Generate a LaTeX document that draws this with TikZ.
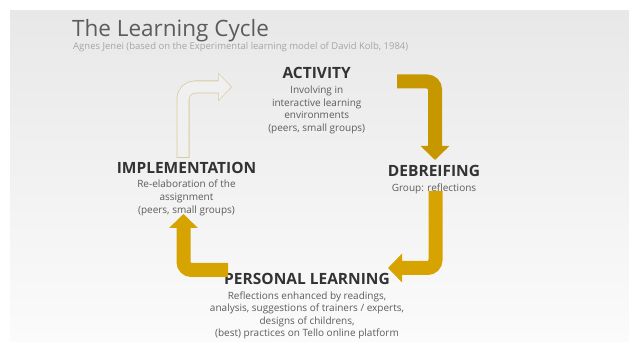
\documentclass[tikz,border=0pt]{standalone}
\usepackage{fontspec}
\setmainfont{Open Sans}
\usetikzlibrary{arrows.meta,positioning}

\definecolor{headgray}{RGB}{51,51,51}
\definecolor{textgray}{RGB}{92,92,92}
\definecolor{subgray}{RGB}{165,165,165}
\definecolor{golddark}{RGB}{199,151,0}
\definecolor{goldlight}{RGB}{214,163,0}
\definecolor{tanline}{RGB}{217,202,160}
\definecolor{tanfill}{RGB}{240,240,240}
\definecolor{bgtop}{RGB}{232,232,232}
\definecolor{bgbottom}{RGB}{251,251,251}

\tikzset{
  heading/.style={font=\fontsize{15.5}{16}\selectfont\bfseries, text=headgray, inner sep=0pt, anchor=base},
  body/.style={font=\fontsize{10}{12.6}\selectfont, text=textgray, align=center, inner sep=0pt},
  flow/.style={line width=14pt, rounded corners=8pt, -{Triangle[width=28pt,length=14pt]}},
}

\begin{document}
\begin{tikzpicture}[x=1pt,y=1pt]
    \useasboundingbox (0,0) rectangle (629,342);
    \shade[top color=bgtop, bottom color=bgbottom] (10,0) rectangle (629,331);

    % title
    \node[anchor=base west, inner sep=0pt, font=\fontsize{22.5}{24}\selectfont, text=textgray] (title) at (72,305) {The Learning Cycle};
    \node[anchor=base west, inner sep=0pt, font=\fontsize{9.5}{10}\selectfont, text=subgray] (subtitle) at (73,292.5) {Agnes Jenei (based on the Experimental learning model of David Kolb, 1984)};

    % the four stages
    \node[heading] (act) at (316.7,263) {ACTIVITY};
    \node[body, below=6.5pt of act] (actbody) {Involving in\\interactive learning\\environments\\(peers, small groups)};

    \node[heading] (deb) at (434,165) {DEBREIFING};
    \node[body, below=6.5pt of deb] (debbody) {Group: reflections};

    \node[heading] (pers) at (307,57.7) {PERSONAL LEARNING};
    \node[body, below=6.5pt of pers] (persbody) {Reflections enhanced by readings,\\analysis, suggestions of trainers / experts,\\designs of childrens,\\(best) practices on Tello online platform};

    \node[heading] (impl) at (186.5,168.7) {IMPLEMENTATION};
    \node[body, below=6.5pt of impl] (implbody) {Re-elaboration of the\\assignment\\(peers, small groups)};

    % arrows between the stages
    \coordinate (actout) at (397,260.5);
    \coordinate (debin) at (435,182);
    \coordinate (debout) at (435.5,151);
    \coordinate (persin) at (388,74);
    \coordinate (persout) at (228,72);
    \coordinate (implin) at (183.5,128);
    \coordinate (implout) at (183,184);
    \coordinate (actin) at (232,255);

    \draw[flow, golddark] (actout) -| (debin);
    \draw[flow, goldlight] (debout) |- (persin);
    \draw[flow, goldlight] (persout) -| (implin);

    % the open arrow back to the activity
    \draw[tanline, line width=13pt, rounded corners=12pt, -{Triangle[width=28pt,length=14pt]}] (implout) |- (actin);
    \draw[tanfill, line width=11.4pt, rounded corners=12pt, -{Triangle[width=25.5pt,length=12.3pt]}] ([yshift=1pt]implout) |- ([xshift=-1.1pt]actin);
\end{tikzpicture}
\end{document}
